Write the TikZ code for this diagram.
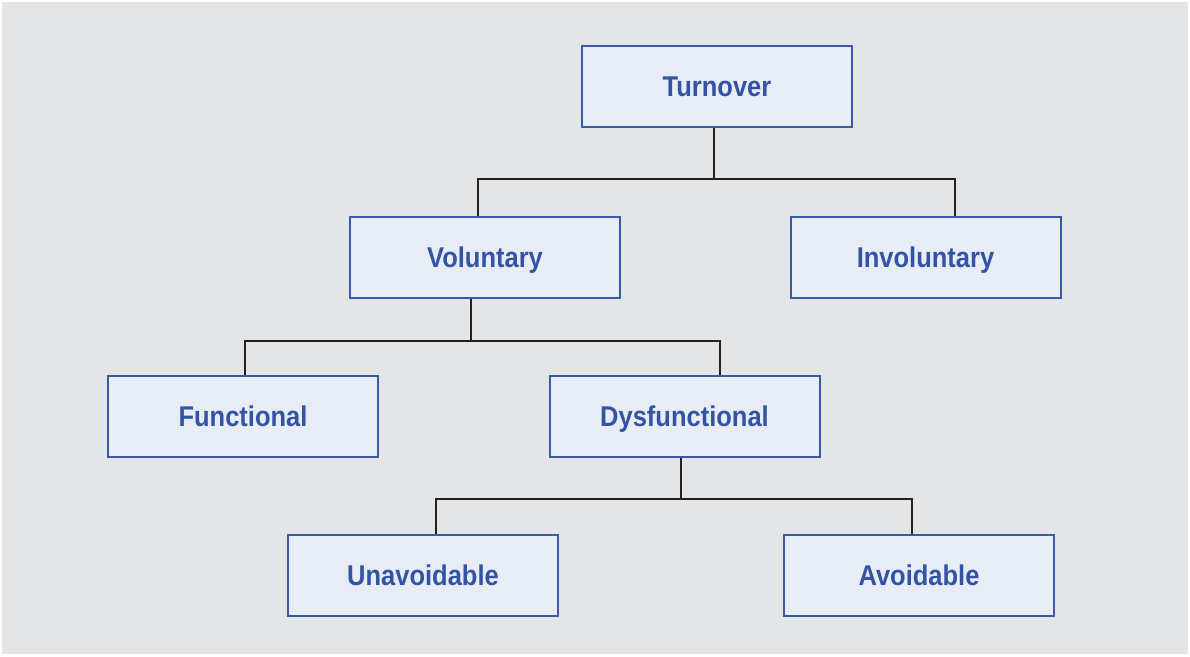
\documentclass[tikz,border=0pt]{standalone}
\usepackage{fontspec}
\usepackage{graphicx}
\setmainfont{Liberation Sans}
\definecolor{bg}{HTML}{E4E5E7}
\definecolor{boxfill}{HTML}{E8ECF5}
\definecolor{boxline}{HTML}{3A5AA8}
\definecolor{txt}{HTML}{3354A4}
\definecolor{conn}{HTML}{222222}
\tikzset{
  box/.style={draw=boxline, fill=boxfill, line width=2pt, minimum width=270pt, minimum height=81pt, inner sep=0pt,
    text height=20pt, text depth=0pt,
    text=txt, font=\fontsize{25.5}{28}\selectfont\bfseries},
  link/.style={draw=conn, line width=2pt}
}
\newcommand{\lbl}[1]{\scalebox{1}[1.12]{#1}}
\begin{document}
\begin{tikzpicture}[x=1pt,y=-1pt]
\fill[white] (0,0) rectangle (1190,656);
\fill[bg] (2,2) rectangle (1188,654);
\useasboundingbox (0,0) rectangle (1190,656);
\node[box] (turn) at (717,86.5) {\lbl{Turnover}};
\node[box] (vol) at (485,257) {\lbl{Voluntary}};
\node[box] (invol) at (925.5,257) {\lbl{Involuntary}};
\node[box] (func) at (243,416) {\lbl{Functional}};
\node[box] (dys) at (684.5,416) {\lbl{Dysfunctional}};
\node[box] (unav) at (423,575) {\lbl{Unavoidable}};
\node[box] (av) at (919,575) {\lbl{Avoidable}};
\draw[link] ([xshift=-3pt]turn.south) -- ++(0,51) coordinate (b1) -| ([xshift=-7pt]vol.north);
\draw[link] (b1) -| ([xshift=29.5pt]invol.north);
\draw[link] ([xshift=-14pt]vol.south) -- ++(0,42) coordinate (b2) -| ([xshift=2pt]func.north);
\draw[link] (b2) -| ([xshift=35.5pt]dys.north);
\draw[link] ([xshift=-3.5pt]dys.south) -- ++(0,41) coordinate (b3) -| ([xshift=13pt]unav.north);
\draw[link] (b3) -| ([xshift=-7pt]av.north);
\end{tikzpicture}
\end{document}
